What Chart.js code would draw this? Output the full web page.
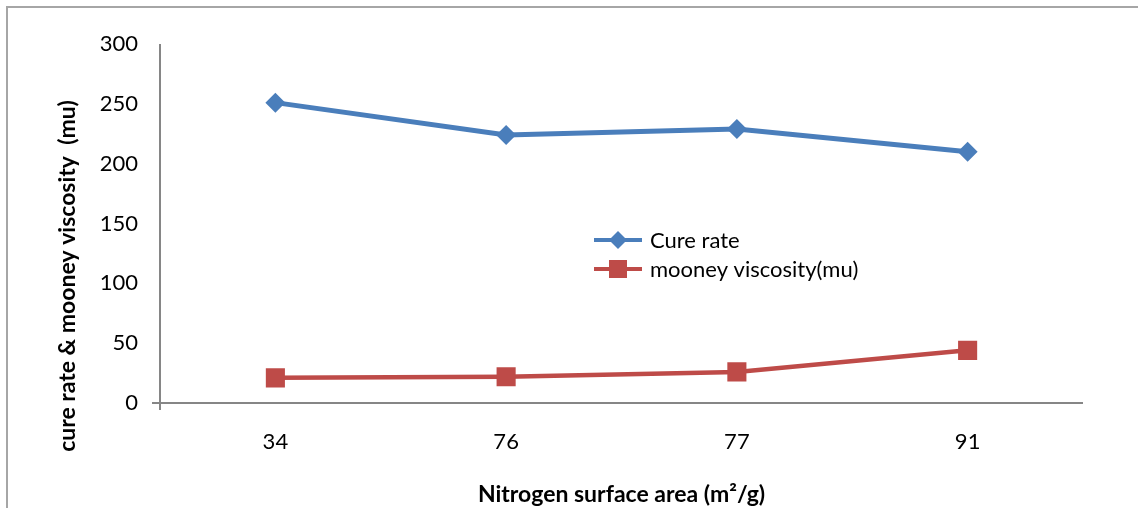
<!DOCTYPE html>
<html>
<head>
<meta charset="utf-8">
<script src="https://cdn.jsdelivr.net/npm/chart.js@4"></script>
<style>
  html, body { margin: 0; padding: 0; background: #fff; }
  #wrap { width: 1138px; height: 508px; position: relative; }
</style>
</head>
<body>
<div id="wrap"><canvas id="cureChart"></canvas></div>
<script>
// Nitrogen surface area categories and measured values
const surfaceAreas = ['34', '76', '77', '91'];
const cureRate = [251, 224, 229, 210];
const mooneyViscosity = [21, 22, 26, 44];
const yTicks = [0, 50, 100, 150, 200, 250, 300];

const seriesNames = ['Cure rate', 'mooney viscosity(mu)'];
const yTitle = 'cure rate & mooney viscosity  (mu)';
const xTitle = 'Nitrogen surface area (m²/g)';
const BLUE = '#4a7ebb';
const RED = '#be4b48';
const AXIS_GREY = '#868686';
const FONT = 'Lato, "Open Sans", sans-serif';

// frame around the whole chart, axis lines crossing at the origin, y title and the floating legend
const decorations = {
    id: 'decorations',
    beforeDraw(chart) {
        const c = chart.ctx;
        c.save();
        c.strokeStyle = '#a6a6a6';
        c.lineWidth = 2;
        c.strokeRect(7, 7, 1300, 700);

        // y title sits centred on the whole frame, not just the plot area
        c.translate(68, 276);
        c.rotate(-Math.PI / 2);
        c.fillStyle = '#000';
        c.font = 'bold 23px ' + FONT;
        c.textAlign = 'center';
        c.textBaseline = 'middle';
        c.fillText(yTitle, 0, 0);
        c.restore();
    },
    afterDatasetsDraw(chart) {
        const c = chart.ctx;
        const area = chart.chartArea;
        c.save();
        c.strokeStyle = AXIS_GREY;
        c.lineWidth = 2;
        c.beginPath();
        c.moveTo(area.left, area.top);
        c.lineTo(area.left, area.bottom + 7);
        c.moveTo(area.left - 8, area.bottom);
        c.lineTo(area.right, area.bottom);
        c.stroke();

        // legend
        const lx = 594, ly = 240, gap = 29;
        chart.data.datasets.forEach((ds, i) => {
            const y = ly + i * gap;
            c.strokeStyle = ds.borderColor;
            c.lineWidth = 4;
            c.beginPath();
            c.moveTo(lx, y);
            c.lineTo(lx + 48, y);
            c.stroke();
            c.fillStyle = ds.backgroundColor;
            c.beginPath();
            if (ds.pointStyle === 'rectRot') {
                const r = 9;
                c.moveTo(lx + 24 - r, y);
                c.lineTo(lx + 24, y - r);
                c.lineTo(lx + 24 + r, y);
                c.lineTo(lx + 24, y + r);
                c.closePath();
            } else {
                c.rect(lx + 24 - 9, y - 9, 18, 18);
            }
            c.fill();
            c.fillStyle = '#000';
            c.font = '22px ' + FONT;
            c.textBaseline = 'middle';
            c.textAlign = 'left';
            c.fillText(ds.label, lx + 56, y + 1);
        });
        c.restore();
    }
};

const ctx = document.getElementById('cureChart').getContext('2d');
const cureChart = new Chart(ctx, {
    type: 'line',
    data: {
        labels: surfaceAreas,
        datasets: [{
            label: seriesNames[0],
            data: cureRate,
            borderColor: BLUE,
            backgroundColor: BLUE,
            borderWidth: 5,
            pointStyle: 'rectRot',
            pointRadius: 10,
            pointHoverRadius: 10,
            pointBorderWidth: 0,
            tension: 0
        }, {
            label: seriesNames[1],
            data: mooneyViscosity,
            borderColor: RED,
            backgroundColor: RED,
            borderWidth: 4.5,
            pointStyle: 'rect',
            pointRadius: 13.5,
            pointHoverRadius: 13.5,
            pointBorderWidth: 0,
            tension: 0
        }]
    },
    options: {
        responsive: true,
        maintainAspectRatio: false,
        animation: false,
        layout: { padding: { left: 0, top: 44, right: 55, bottom: 0 } },
        plugins: {
            legend: { display: false },
            tooltip: { enabled: false }
        },
        scales: {
            x: {
                offset: true,
                grid: { display: false, drawTicks: false },
                border: { display: false },
                ticks: {
                    color: '#000',
                    font: { family: FONT, size: 22 },
                    padding: 26
                },
                title: {
                    display: true,
                    text: xTitle,
                    color: '#000',
                    font: { family: FONT, size: 23, weight: 'bold' },
                    padding: { top: 10, bottom: 0 }
                },
                afterFit(scale) { scale.height = 105; }
            },
            y: {
                min: 0,
                max: 300,
                afterBuildTicks(scale) {
                    scale.ticks = yTicks.map(v => ({ value: v }));
                },
                grid: { display: false, drawTicks: false },
                border: { display: false },
                ticks: {
                    color: '#000',
                    font: { family: FONT, size: 22 },
                    padding: 22
                },
                afterFit(scale) { scale.width = 160; }
            }
        }
    },
    plugins: [decorations]
});
</script>
</body>
</html>
